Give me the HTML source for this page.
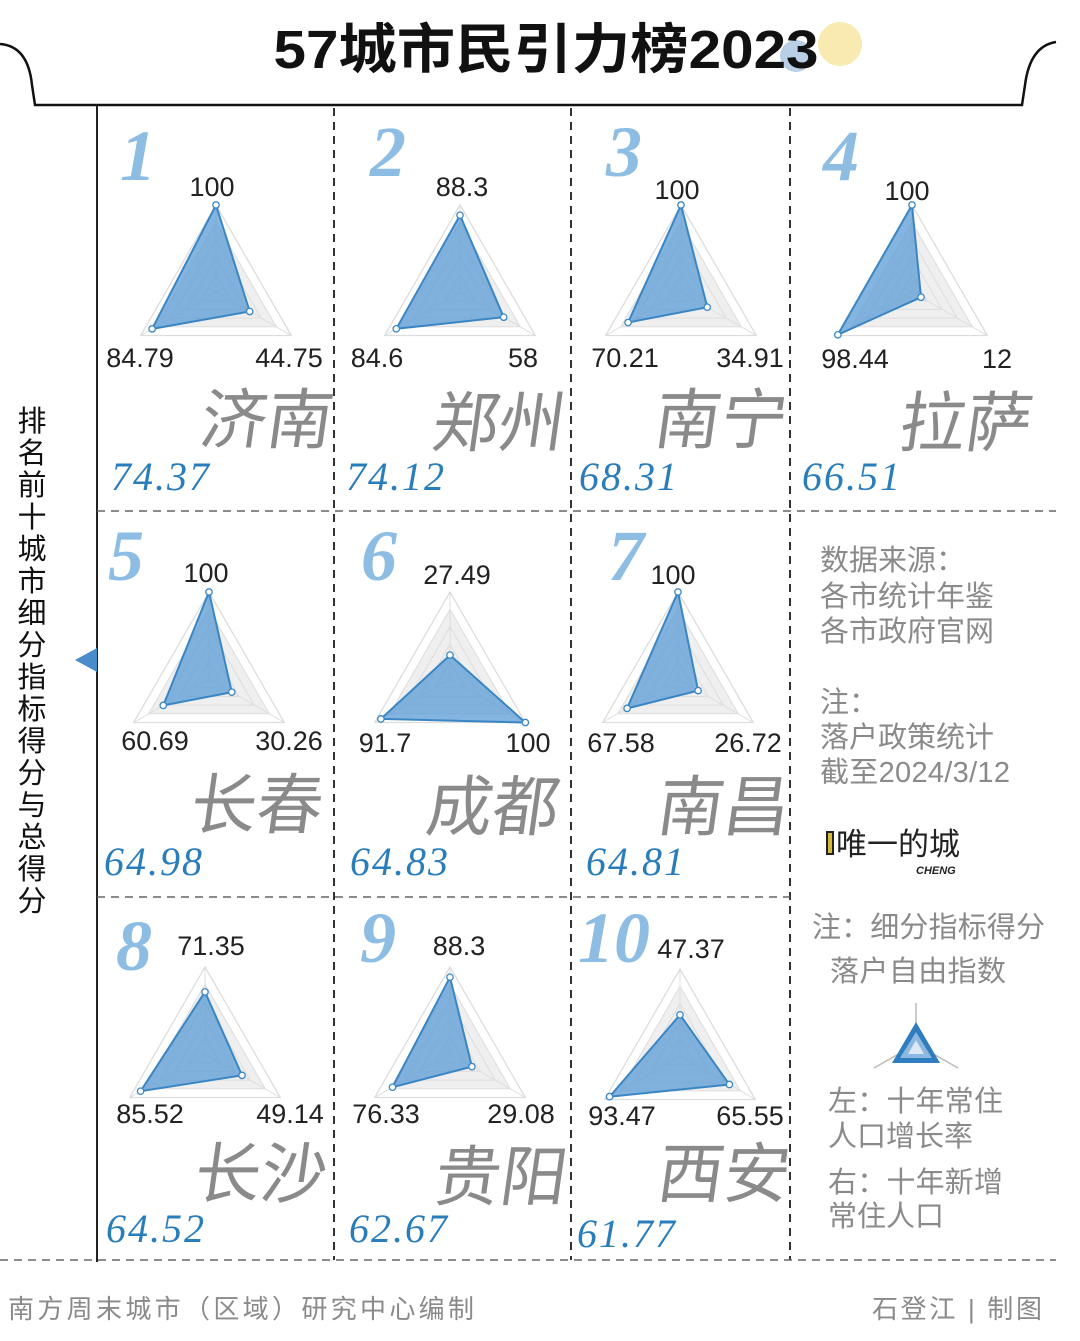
<!DOCTYPE html>
<html><head><meta charset="utf-8">
<style>
html,body{margin:0;padding:0;background:#fff;}
svg{display:block;}
.t{font-family:"Liberation Sans",sans-serif;font-size:27px;fill:#222;}
.rk{font-family:"Liberation Serif",serif;font-style:italic;font-weight:bold;font-size:72px;fill:#8dbde2;}
.cn{font-family:"Liberation Sans","Noto Sans CJK SC",sans-serif;font-size:66px;fill:#8a8a8a;}
.sc{font-family:"Liberation Serif",serif;font-style:italic;font-size:40px;fill:#2a7dbb;letter-spacing:2px;}
.side{font-family:"Liberation Sans","Noto Sans CJK SC",sans-serif;font-size:29px;fill:#8a8a8a;}
</style></head>
<body>
<svg id="s" width="1080" height="1341" viewBox="0 0 1080 1341" xmlns="http://www.w3.org/2000/svg">
<rect width="1080" height="1341" fill="#fff"/>
<path d="M0,44 Q28,46 32,85 L35,105 L1022,105 L1025,85 Q1030,46 1056,42" fill="none" stroke="#111" stroke-width="2.5"/>
<circle cx="840" cy="44" r="22" fill="#f8eab0"/>
<circle cx="796" cy="56" r="16" fill="#b9cfe6"/>
<text x="546" y="68" text-anchor="middle" font-family="'Liberation Sans','Noto Sans CJK SC',sans-serif" font-weight="bold" font-size="54" fill="#111" textLength="545" lengthAdjust="spacingAndGlyphs">57城市民引力榜2023</text>
<line x1="97" y1="105" x2="97" y2="1262" stroke="#222" stroke-width="2"/>
<g stroke="#333" stroke-width="2" stroke-dasharray="8,6" fill="none">
<line x1="334" y1="108" x2="334" y2="1260"/>
<line x1="571" y1="108" x2="571" y2="1260"/>
<line x1="790" y1="108" x2="790" y2="1260"/>
</g>
<g stroke="#666" stroke-width="1.6" stroke-dasharray="8,6" fill="none">
<line x1="97" y1="511" x2="1056" y2="511"/>
<line x1="97" y1="897" x2="790" y2="897"/>
<line x1="0" y1="1260" x2="1056" y2="1260"/>
</g>
<polygon points="75,660 97,648 97,672" fill="#4a8ccb"/>
<g id="radars"></g>
<text class="rk" x="120" y="180">1</text>
<text class="rk" x="370" y="176">2</text>
<text class="rk" x="606" y="176">3</text>
<text class="rk" x="823" y="180">4</text>
<text class="rk" x="108" y="580">5</text>
<text class="rk" x="361" y="580">6</text>
<text class="rk" x="608" y="580">7</text>
<text class="rk" x="116" y="970">8</text>
<text class="rk" x="360" y="962">9</text>
<text class="rk" x="578" y="962">10</text>
<g class="cn">
<text transform="translate(198,443) skewX(-8)">济南</text>
<text transform="translate(430,446) skewX(-8)">郑州</text>
<text transform="translate(652,443) skewX(-8)">南宁</text>
<text transform="translate(897,446) skewX(-8)">拉萨</text>
<text transform="translate(188,828) skewX(-8)">长春</text>
<text transform="translate(424,830) skewX(-8)">成都</text>
<text transform="translate(655,830) skewX(-8)">南昌</text>
<text transform="translate(192,1197) skewX(-8)">长沙</text>
<text transform="translate(432,1200) skewX(-8)">贵阳</text>
<text transform="translate(655,1197) skewX(-8)">西安</text>
</g>
<text class="sc" x="111" y="490">74.37</text>
<text class="sc" x="346" y="490">74.12</text>
<text class="sc" x="579" y="490">68.31</text>
<text class="sc" x="802" y="490">66.51</text>
<text class="sc" x="104" y="875">64.98</text>
<text class="sc" x="350" y="875">64.83</text>
<text class="sc" x="586" y="875">64.81</text>
<text class="sc" x="106" y="1242">64.52</text>
<text class="sc" x="349" y="1242">62.67</text>
<text class="sc" x="577" y="1247">61.77</text>
<g class="t" text-anchor="middle">
<text x="212" y="196">100</text><text x="140" y="367">84.79</text><text x="289" y="367">44.75</text>
<text x="462" y="196">88.3</text><text x="377" y="367">84.6</text><text x="523" y="367">58</text>
<text x="677" y="199">100</text><text x="625" y="367">70.21</text><text x="750" y="367">34.91</text>
<text x="907" y="200">100</text><text x="855" y="368">98.44</text><text x="997" y="368">12</text>
<text x="206" y="582">100</text><text x="155" y="750">60.69</text><text x="289" y="750">30.26</text>
<text x="457" y="584">27.49</text><text x="385" y="752">91.7</text><text x="528" y="752">100</text>
<text x="673" y="584">100</text><text x="621" y="752">67.58</text><text x="748" y="752">26.72</text>
<text x="211" y="955">71.35</text><text x="150" y="1123">85.52</text><text x="290" y="1123">49.14</text>
<text x="459" y="955">88.3</text><text x="386" y="1123">76.33</text><text x="521" y="1123">29.08</text>
<text x="691" y="958">47.37</text><text x="622" y="1125">93.47</text><text x="750" y="1125">65.55</text>
</g>
<g font-family="'Liberation Sans','Noto Sans CJK SC',sans-serif" font-size="29" fill="#111" text-anchor="middle">
<text x="32" y="431">排</text><text x="32" y="463">名</text><text x="32" y="495">前</text><text x="32" y="527">十</text>
<text x="32" y="559">城</text><text x="32" y="591">市</text><text x="32" y="623">细</text><text x="32" y="655">分</text>
<text x="32" y="687">指</text><text x="32" y="719">标</text><text x="32" y="751">得</text><text x="32" y="783">分</text>
<text x="32" y="815">与</text><text x="32" y="847">总</text><text x="32" y="879">得</text><text x="32" y="911">分</text>
</g>
<text class="side" x="820" y="570">数据来源：</text>
<text class="side" x="820" y="606">各市统计年鉴</text>
<text class="side" x="820" y="641">各市政府官网</text>
<text class="side" x="820" y="712">注：</text>
<text class="side" x="820" y="747">落户政策统计</text>
<text class="side" x="820" y="782" textLength="190">截至2024/3/12</text>
<rect x="827" y="832" width="6" height="22" fill="#d4b93a" stroke="#222" stroke-width="2"/>
<text x="836" y="855" font-family="'Liberation Sans','Noto Sans CJK SC',sans-serif" font-size="31" fill="#222">唯一的城</text>
<text x="916" y="874" font-family="'Liberation Sans',sans-serif" font-size="11" font-weight="bold" font-style="italic" fill="#222">CHENG</text>
<text class="side" x="812" y="937" textLength="233">注：细分指标得分</text>
<text class="side" x="830" y="981" textLength="176">落户自由指数</text>
<g>
<line x1="916" y1="1003" x2="916" y2="1044" stroke="#bbb" stroke-width="1.5"/>
<line x1="916" y1="1044" x2="874" y2="1068" stroke="#bbb" stroke-width="1.5"/>
<line x1="916" y1="1044" x2="958" y2="1068" stroke="#bbb" stroke-width="1.5"/>
<polygon points="916,1022 940,1063 892,1063" fill="#2f7cc0"/>
<polygon points="916,1032 932,1058 900,1058" fill="#8ab8e0"/>
<polygon points="916,1040 924,1054 908,1054" fill="#dbe8f4"/>
</g>
<text class="side" x="828" y="1111" textLength="175">左：十年常住</text>
<text class="side" x="828" y="1146">人口增长率</text>
<text class="side" x="828" y="1192" textLength="175">右：十年新增</text>
<text class="side" x="828" y="1226">常住人口</text>
<text x="8" y="1318" font-family="'Liberation Sans','Noto Sans CJK SC',sans-serif" font-size="26" fill="#8a8a8a" textLength="466">南方周末城市（区域）研究中心编制</text>
<text x="872" y="1318" font-family="'Liberation Sans','Noto Sans CJK SC',sans-serif" font-size="26" fill="#8a8a8a" textLength="170">石登江 | 制图</text>
</svg>
<script>
var D=[[216,292,100,84.79,44.75],[460,292,88.3,84.6,58],[681,292,100,70.21,34.91],[912,292,100,98.44,12],
[209,679,100,60.69,30.26],[450,679,27.49,91.7,100],[678,679,100,67.58,26.72],
[205,1054,71.35,85.52,49.14],[450,1054,88.3,76.33,29.08],[680,1056,47.37,93.47,65.55]];
var R=87,ns="http://www.w3.org/2000/svg",g=document.getElementById("radars");
function el(t,a){var e=document.createElementNS(ns,t);for(var k in a)e.setAttribute(k,a[k]);g.appendChild(e);return e;}
function pt(cx,cy,r,i){var a=-Math.PI/2+i*2*Math.PI/3;return [cx+r*Math.cos(a),cy+r*Math.sin(a)];}
function tri(cx,cy,r){var s=[];for(var i=0;i<3;i++){var p=pt(cx,cy,r,i);s.push(p[0].toFixed(1)+","+p[1].toFixed(1));}return s.join(" ");}
D.forEach(function(d){
 var cx=d[0],cy=d[1];
 el("polygon",{points:tri(cx,cy,R),fill:"#fff",stroke:"#ddd","stroke-width":1.3});
 el("polygon",{points:tri(cx,cy,R*0.8),fill:"#efefef",stroke:"#ddd","stroke-width":1});
 [0.6,0.4,0.2].forEach(function(f){el("polygon",{points:tri(cx,cy,R*f),fill:"none",stroke:"#ddd","stroke-width":1});});
 for(var i=0;i<3;i++){var p=pt(cx,cy,R,i);el("line",{x1:cx,y1:cy,x2:p[0],y2:p[1],stroke:"#ddd","stroke-width":1});}
 var v=[d[2],d[4],d[3]],ps=[],s=[];
 for(var i=0;i<3;i++){var p=pt(cx,cy,R*v[i]/100,i);ps.push(p);s.push(p[0].toFixed(1)+","+p[1].toFixed(1));}
 el("polygon",{points:s.join(" "),fill:"#5b9bd5","fill-opacity":0.75,stroke:"#3a86c4","stroke-width":2});
 ps.forEach(function(p){el("circle",{cx:p[0],cy:p[1],r:3.2,fill:"#fff",stroke:"#3a86c4","stroke-width":1.3});});
});
</script>
</body></html>
